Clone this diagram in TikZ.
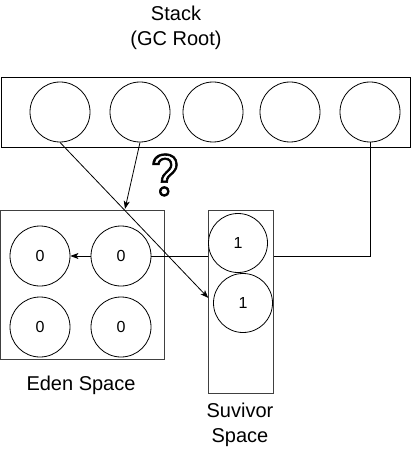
\documentclass[tikz,border=0pt]{standalone}
\usepackage{fontspec}
\setmainfont{Liberation Sans}
\newfontfamily\emojifont[FakeBold=1.5]{Noto Emoji}
\usetikzlibrary{shapes.geometric, arrows.meta, calc}
\tikzstyle{slot} = [circle, draw=black, fill=white, minimum size=60pt, inner sep=0pt,
font=\fontsize{16}{18}\selectfont]
\tikzstyle{area} = [rectangle, draw=black!75, fill=white, inner sep=0pt]
\tikzstyle{title} = [align=center, font=\fontsize{20}{25}\selectfont]
\tikzstyle{arrow} = [->, >={Stealth[length=8pt, width=6pt, inset=2pt]}]
\tikzstyle{line} = [-]

\begin{document}
\begin{tikzpicture}[x=1pt, y=-1pt, line width=0.8pt]

        \useasboundingbox (0,0) rectangle (411,449);

        % stack
        \node (ST) [title] at (176,28) {Stack\\(GC Root)};
        \node (STACK) [area, draw=black, minimum width=409pt, minimum height=70pt] at (205.5,112) {};

        \node (K1) [slot] at (60,112) {};
        \node (K2) [slot] at (140,112) {};
        \node (K3) [slot] at (213,112) {};
        \node (K4) [slot] at (290,112) {};
        \node (K5) [slot] at (370,112) {};

        % eden
        \node (EDEN) [area, minimum width=164pt, minimum height=149pt] at (82.5,284.5) {};
        \node (E1) [slot] at (40,256) {0};
        \node (E2) [slot] at (121,256) {0};
        \node (E3) [slot] at (40,327) {0};
        \node (E4) [slot] at (121,327) {0};
        \node (EL) [title] at (81,385) {Eden Space};

        \draw [line] (K5.south) |- (E2.east);
        \draw [arrow] (E2) -- (E1);

        % survivor
        \node (SURV) [area, minimum width=65pt, minimum height=183pt] at (240.5,301.5) {};
        \node (S1) [slot, minimum size=59pt] at (238,243) {1};
        \node (S2) [slot, minimum size=59pt] at (243,303) {1};
        \node (SL) [title] at (240,425) {Suvivor\\Space};

        \coordinate (I1) at (125,209);

        \draw [arrow] (K2.south) -- (I1);
        \draw [arrow, shorten >=7pt] (K1.south) -- (S2.west);

        \node (Q) at (165,175) {\emojifont\bfseries\fontsize{42}{42}\selectfont ❔};

    \end{tikzpicture}
\end{document}
